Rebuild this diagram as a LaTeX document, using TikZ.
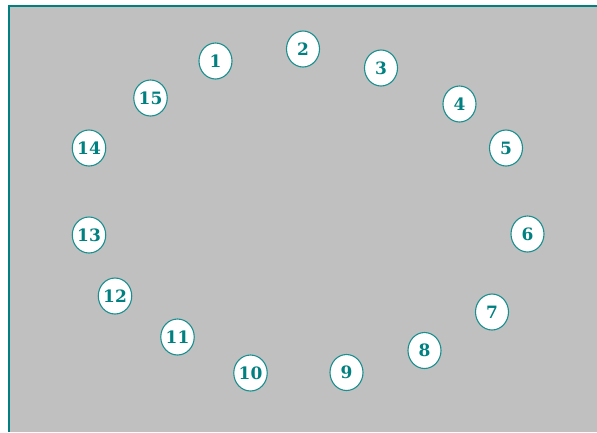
\documentclass[tikz,border=0pt]{standalone}
\usepackage{fontspec}
\newfontfamily\numfont{DejaVu Serif}
\usetikzlibrary{shapes.geometric}
\definecolor{tealc}{HTML}{008080}
\definecolor{tealb}{HTML}{1A8F8F}
\definecolor{bggray}{HTML}{C0C0C0}
\tikzset{
  numnode/.style={ellipse, draw=tealb, line width=1.1pt, fill=white,
    minimum width=33pt, minimum height=36pt, inner sep=0pt,
    text=tealc, font=\numfont\bfseries\fontsize{17}{17}\selectfont}
}
\begin{document}
\begin{tikzpicture}[x=1pt,y=-1pt]
\useasboundingbox (0,0) rectangle (597,432);
\fill[white] (0,0) rectangle (597,432);
\fill[bggray] (9,6) rectangle (597,432);
\draw[tealc, line width=2.6pt] (9,432) -- (9,6) -- (597,6);
\node[numnode] (n1) at (215.5,61) {1};
\node[numnode] (n2) at (303,49) {2};
\node[numnode] (n3) at (381,68) {3};
\node[numnode] (n4) at (459.5,104) {4};
\node[numnode] (n5) at (506,148) {5};
\node[numnode] (n6) at (527.5,234) {6};
\node[numnode] (n7) at (492,312) {7};
\node[numnode] (n8) at (424.5,350.5) {8};
\node[numnode] (n9) at (346.5,372.5) {9};
\node[numnode] (n10) at (250.5,373) {10};
\node[numnode] (n11) at (177.5,337) {11};
\node[numnode] (n12) at (115,296) {12};
\node[numnode] (n13) at (89,235) {13};
\node[numnode] (n14) at (89,148) {14};
\node[numnode] (n15) at (150.5,98) {15};
\end{tikzpicture}
\end{document}
